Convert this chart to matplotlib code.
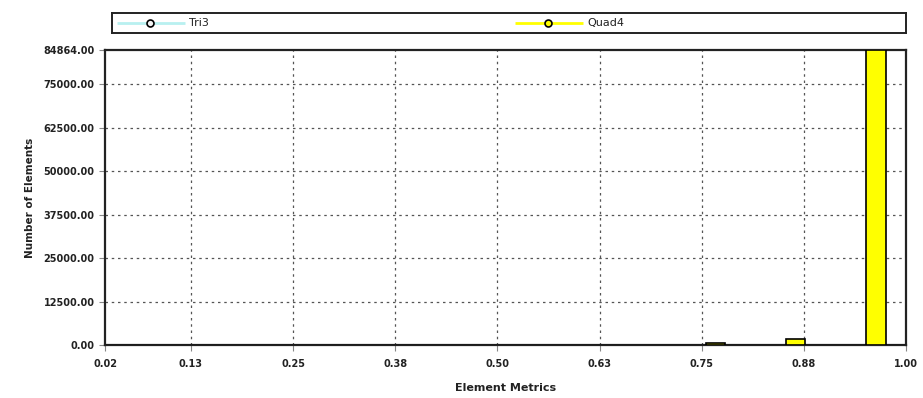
import matplotlib
matplotlib.use("Agg")
import matplotlib.pyplot as plt
import numpy as np

# ---- data ----
metric_min = 0.02
metric_max = 1.00
n_bins = 40
tri3_counts = [0] * 40
quad4_counts = [0] * 30 + [500, 0, 0, 0, 1700, 0, 0, 0, 84864, 0]
y_max = 84864
y_ticks = [0, 12500, 25000, 37500, 50000, 62500, 75000, 84864]
x_ticks = [0.02, 0.125, 0.25, 0.375, 0.50, 0.625, 0.75, 0.875, 1.00]
x_tick_labels = ["0.02", "0.13", "0.25", "0.38", "0.50", "0.63", "0.75", "0.88", "1.00"]
series_names = ["Tri3", "Quad4"]
series_colors = ["#b8f0f0", "#ffff00"]
marker_faces = ["#f4f4f4", "#ffff00"]

plt.rcParams['font.family'] = ['DejaVu Sans']

fig = plt.figure(figsize=(9.23, 3.98), dpi=100)
ax = fig.add_axes([0.1138, 0.1332, 0.9816 - 0.1138, 0.8744 - 0.1332])

bw = (metric_max - metric_min) / n_bins
edges = np.array([metric_min + i * bw for i in range(n_bins)])
ax.bar(edges, tri3_counts, width=bw, align='edge',
       color=series_colors[0], edgecolor='black', linewidth=1.0, zorder=3)
nz = [i for i, v in enumerate(quad4_counts) if v > 0]
ax.bar(edges[nz] + bw * 0.02, [quad4_counts[i] for i in nz], width=bw * 0.96, align='edge',
       color=series_colors[1], edgecolor='black', linewidth=1.2, zorder=3)

ax.set_xlim(metric_min, metric_max)
ax.set_ylim(0, y_max)
ax.set_xticks(x_ticks)
ax.set_xticklabels(x_tick_labels, fontsize=7, fontweight='bold', color='#222222')
ax.set_yticks(y_ticks)
ax.set_yticklabels([f"{v:.2f}" for v in y_ticks], fontsize=7, fontweight='bold', color='#222222')
ax.tick_params(axis='both', color='#888888', length=4, width=0.8)
ax.tick_params(axis='x', pad=6)

# grid
for xt in x_ticks[1:-1]:
    ax.axvline(xt, color='#555555', linestyle=(0, (2, 3)), linewidth=0.9, zorder=1)
for yt in y_ticks[1:-1]:
    ax.axhline(yt, color='#555555', linestyle=(0, (2, 3)), linewidth=0.9, zorder=1)

for s in ax.spines.values():
    s.set_linewidth(1.6)
    s.set_color('#222222')

ax.set_xlabel("Element Metrics", fontsize=8, fontweight='bold', labelpad=10, color='#222222')
ax.set_ylabel("Number of Elements", fontsize=7.5, fontweight='bold', labelpad=6, color='#222222')

# legend box
L, R, T, B = 112, 906, 13, 33
lax = fig.add_axes([L / 923, 1 - B / 398, (R - L) / 923, (B - T) / 398])
lax.set_xlim(L, R)
lax.set_ylim(0, B - T)
lax.set_xticks([])
lax.set_yticks([])
for s in lax.spines.values():
    s.set_linewidth(1.4)
    s.set_color('#222222')
starts = [117, 515]
for x0, name, col, mf in zip(starts, series_names, series_colors, marker_faces):
    yc = (B - T) / 2
    lax.plot([x0, x0 + 68], [yc, yc], color=col, linewidth=2.0, solid_capstyle='butt')
    lax.plot([x0 + 33], [yc], marker='o', markersize=5, markerfacecolor=mf,
             markeredgecolor='black', markeredgewidth=1.2)
    lax.text(x0 + 72, yc, name, fontsize=8, va='center', ha='left', color='#222222')

fig.savefig("out.png", dpi=100)
